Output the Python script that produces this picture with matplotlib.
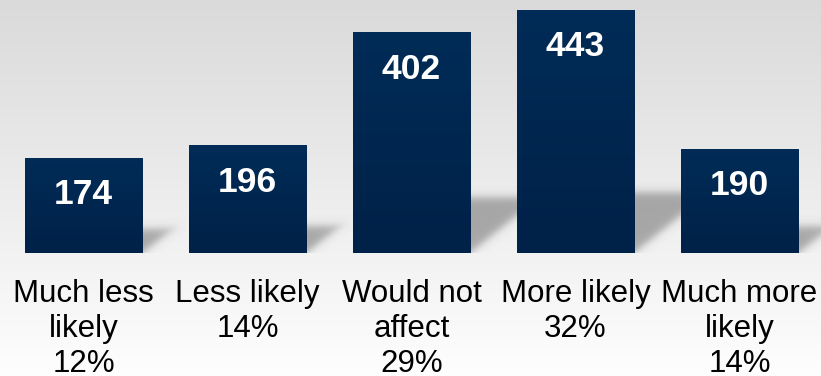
import numpy as np
import matplotlib
matplotlib.use("Agg")
import matplotlib.pyplot as plt
from matplotlib.colors import LinearSegmentedColormap

categories = ["Much less\nlikely", "Less likely", "Would not\naffect", "More likely", "Much more\nlikely"]
percents = ["12%", "14%", "29%", "32%", "14%"]
counts = [174, 196, 402, 443, 190]

plt.rcParams['font.family'] = ['Liberation Sans', 'DejaVu Sans']

W, H = 821, 376
fig = plt.figure(figsize=(W / 100, H / 100), dpi=100)

# background gradient
bg = fig.add_axes([0, 0, 1, 1], zorder=0)
grad = np.linspace(0.855, 0.995, 256).reshape(-1, 1)
bg.imshow(np.dstack([grad, grad, grad]), aspect='auto', extent=[0, 1, 0, 1], origin='upper')
bg.set_axis_off()

base_px = 253
YMAX = 461
base = (H - base_px) / H
ax = fig.add_axes([1.5 / W, base, 820 / W, base_px / H], zorder=1)
ax.patch.set_alpha(0)
x = np.arange(len(counts))
width = 0.715
bars = ax.bar(x, counts, width=width, color='#00284f', zorder=3)
ax.set_xlim(-0.5, 4.5)
ax.set_ylim(0, YMAX)

px_x = 5.0 / 820      # data units per pixel (x)
px_y = YMAX / base_px  # data units per pixel (y)

def sig(v):
    return 1.0 / (1.0 + np.exp(-v))

# perspective shadows to the right of each bar
for b in bars:
    h_px = b.get_height() / px_y
    hs = 0.25 * h_px
    nx, ny = 120, 80
    dxmax = 100.0
    ymax = hs + 12
    dx = np.linspace(0, dxmax, nx)
    yy = np.linspace(0, ymax, ny)
    DX, YY = np.meshgrid(dx, yy)
    lower = 0.8 * DX
    a = 0.55 * sig((YY - lower) / 3.0) * sig((hs - YY) / 2.5)
    img = np.zeros((ny, nx, 4))
    img[..., :3] = 0.42
    img[..., 3] = a
    x0 = b.get_x() + b.get_width()
    ax.imshow(img, extent=[x0, x0 + dxmax * px_x, 0, ymax * px_y],
              origin='lower', aspect='auto', zorder=2, interpolation='bilinear')

# bar gradient
cmap = LinearSegmentedColormap.from_list('navy', ['#002148', '#002c57'])
gv = np.linspace(0, 1, 256).reshape(-1, 1)
for b in bars:
    im = ax.imshow(gv, cmap=cmap, extent=[b.get_x(), b.get_x() + b.get_width(), 0, b.get_height()],
                   origin='lower', aspect='auto', zorder=3.5)
    im.set_clip_path(b)

for xi, c in zip(x, counts):
    ax.annotate(str(c), (xi, c), xytext=(0, -26.7), textcoords='offset points',
                ha='center', va='center', color='white', fontsize=25.5, fontweight='bold', zorder=5)

ax.set_xticks(x)
ax.set_xticklabels([f"{c}\n{p}" for c, p in zip(categories, percents)],
                   fontsize=22.5, linespacing=1.2)
ax.tick_params(axis='x', length=0, pad=19)
ax.set_yticks([])
for s in ax.spines.values():
    s.set_visible(False)
ax.set_xlim(-0.5, 4.5)
ax.set_ylim(0, YMAX)

fig.savefig('out.png', dpi=100)
